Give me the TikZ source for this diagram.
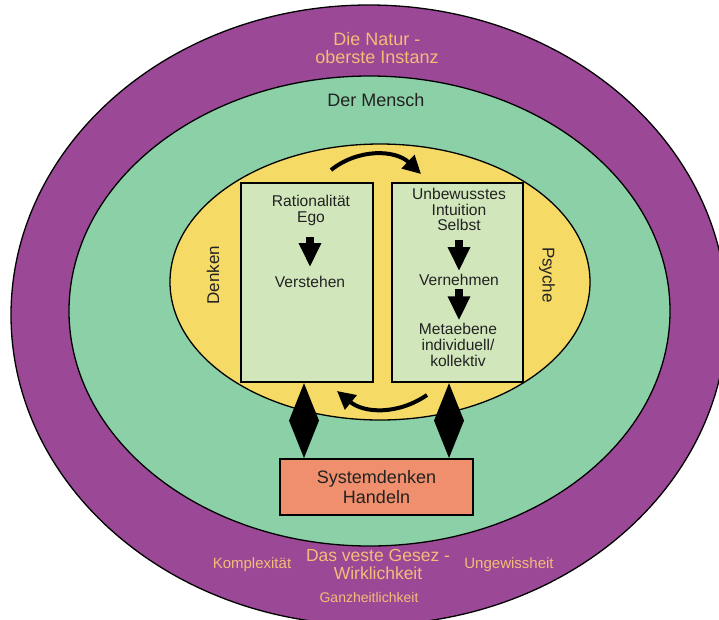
\documentclass[tikz,border=0pt]{standalone}
\usepackage{fontspec}
\setmainfont{Liberation Sans}
\usetikzlibrary{arrows.meta,calc}
\definecolor{natur}{HTML}{9B4896}
\definecolor{mensch}{HTML}{8CD0A8}
\definecolor{kern}{HTML}{F5DA66}
\definecolor{feld}{HTML}{D1E7BB}
\definecolor{handeln}{HTML}{EF8F6D}
\definecolor{gold}{HTML}{F2BD78}
\definecolor{ink}{HTML}{222222}

\begin{document}
\begin{tikzpicture}[x=1pt,y=1pt,
  ring/.style={draw=black, line width=1.3pt},
  panel/.style={draw=black, line width=2.2pt, fill=feld, inner sep=0pt, anchor=north west},
  txt/.style={inner sep=0pt, align=center, text=ink, font=\fontsize{15.6}{15.7}\selectfont},
  side/.style={inner sep=0pt, text=ink, font=\fontsize{17}{18}\selectfont},
  goldtxt/.style={inner sep=0pt, align=center, text=gold},
  blockarrow/.style={line width=8pt, -{Triangle[length=24pt,width=21pt]}},
  cyclearrow/.style={line width=4pt, -{Triangle[length=18pt,width=18pt]}},
  kite/.style={fill=black},
]
\useasboundingbox (0,0) rectangle (719,-619);
\fill[white] (0,0) rectangle (719,-619);

% nested spheres
\draw[ring, fill=natur]  (369,-315)   ellipse [x radius=358,   y radius=310];
\draw[ring, fill=mensch] (369.5,-311) ellipse [x radius=300.5, y radius=235];
\draw[ring, fill=kern]   (380,-282)   ellipse [x radius=210,   y radius=138];

% the two panels
\node[panel, minimum width=132, minimum height=199] (lbox) at (240,-182) {};
\node[panel, minimum width=131, minimum height=199] (rbox) at (391,-182) {};

% left panel
\node[txt] (rat)   at (311,-210.5) {Rationalität\\Ego};
\node[txt] (verst) at (310,-282)   {Verstehen};
\draw[blockarrow, shorten <=11pt, shorten >=9pt] (rat.south -| verst.north) -- (verst.north);

% right panel
\node[txt] (unb)  at (459,-209.5) {Unbewusstes\\Intuition\\Selbst};
\node[txt] (vern) at (459,-280)   {Vernehmen};
\node[txt] (meta) at (458,-345)   {Metaebene\\individuell/\\kollektiv};
\draw[blockarrow, shorten <=8.5pt, shorten >=3pt] (unb.south -| vern.north) -- (vern.north);
\draw[blockarrow, shorten <=3.5pt, shorten >=3pt] (vern.south) -- (meta.north -| vern.south);

% side labels
\node[side, rotate=90]  (denken) at (213,-275) {Denken};
\node[side, rotate=-90] (psyche) at (547,-275) {Psyche};

% cycle between the panels
\coordinate (ta) at (331,-170);
\coordinate (tb) at (421,-174);
\coordinate (ba) at (427,-395);
\coordinate (bb) at (337,-391);
\draw[cyclearrow] (ta) to[bend left=41] (tb);
\draw[cyclearrow] (ba) to[bend left=37] (bb);

% acting
\node[draw=black, line width=2pt, fill=handeln, minimum width=193, minimum height=56,
      inner sep=0pt, align=center, text=ink, font=\fontsize{18}{20}\selectfont]
      (sys) at (376.5,-487) {Systemdenken\\Handeln};

% two-way links from the panels down to acting
\coordinate (dlt) at (lbox.south -| 304,0);
\coordinate (dlb) at (sys.north -| 304,0);
\coordinate (drt) at (rbox.south -| 449,0);
\coordinate (drb) at (sys.north -| 449,0);
\fill[kite] (dlt) -- ($(dlt)!0.5!(dlb)+(15,0)$) -- (dlb) -- ($(dlt)!0.5!(dlb)-(15,0)$) -- cycle;
\fill[kite] (drt) -- ($(drt)!0.5!(drb)+(15,0)$) -- (drb) -- ($(drt)!0.5!(drb)-(15,0)$) -- cycle;

% sphere labels
\node[inner sep=0pt, text=ink, font=\fontsize{18}{20}\selectfont] (menschlbl) at (376,-100) {Der Mensch};
\node[goldtxt, font=\fontsize{18}{18}\selectfont] (naturlbl) at (377,-48) {Die Natur -\\oberste Instanz};
\node[goldtxt, font=\fontsize{17.5}{17.5}\selectfont] (gesetz) at (378,-564.5) {Das veste Gesez -\\Wirklichkeit};
\node[goldtxt, font=\fontsize{15}{15}\selectfont] (komplex) at (252,-565) {Komplexität};
\node[goldtxt, font=\fontsize{15}{15}\selectfont] (ungew) at (509,-564.5) {Ungewissheit};
\node[goldtxt, font=\fontsize{14}{14}\selectfont] (ganz) at (369,-597) {Ganzheitlichkeit};
\end{tikzpicture}
\end{document}
